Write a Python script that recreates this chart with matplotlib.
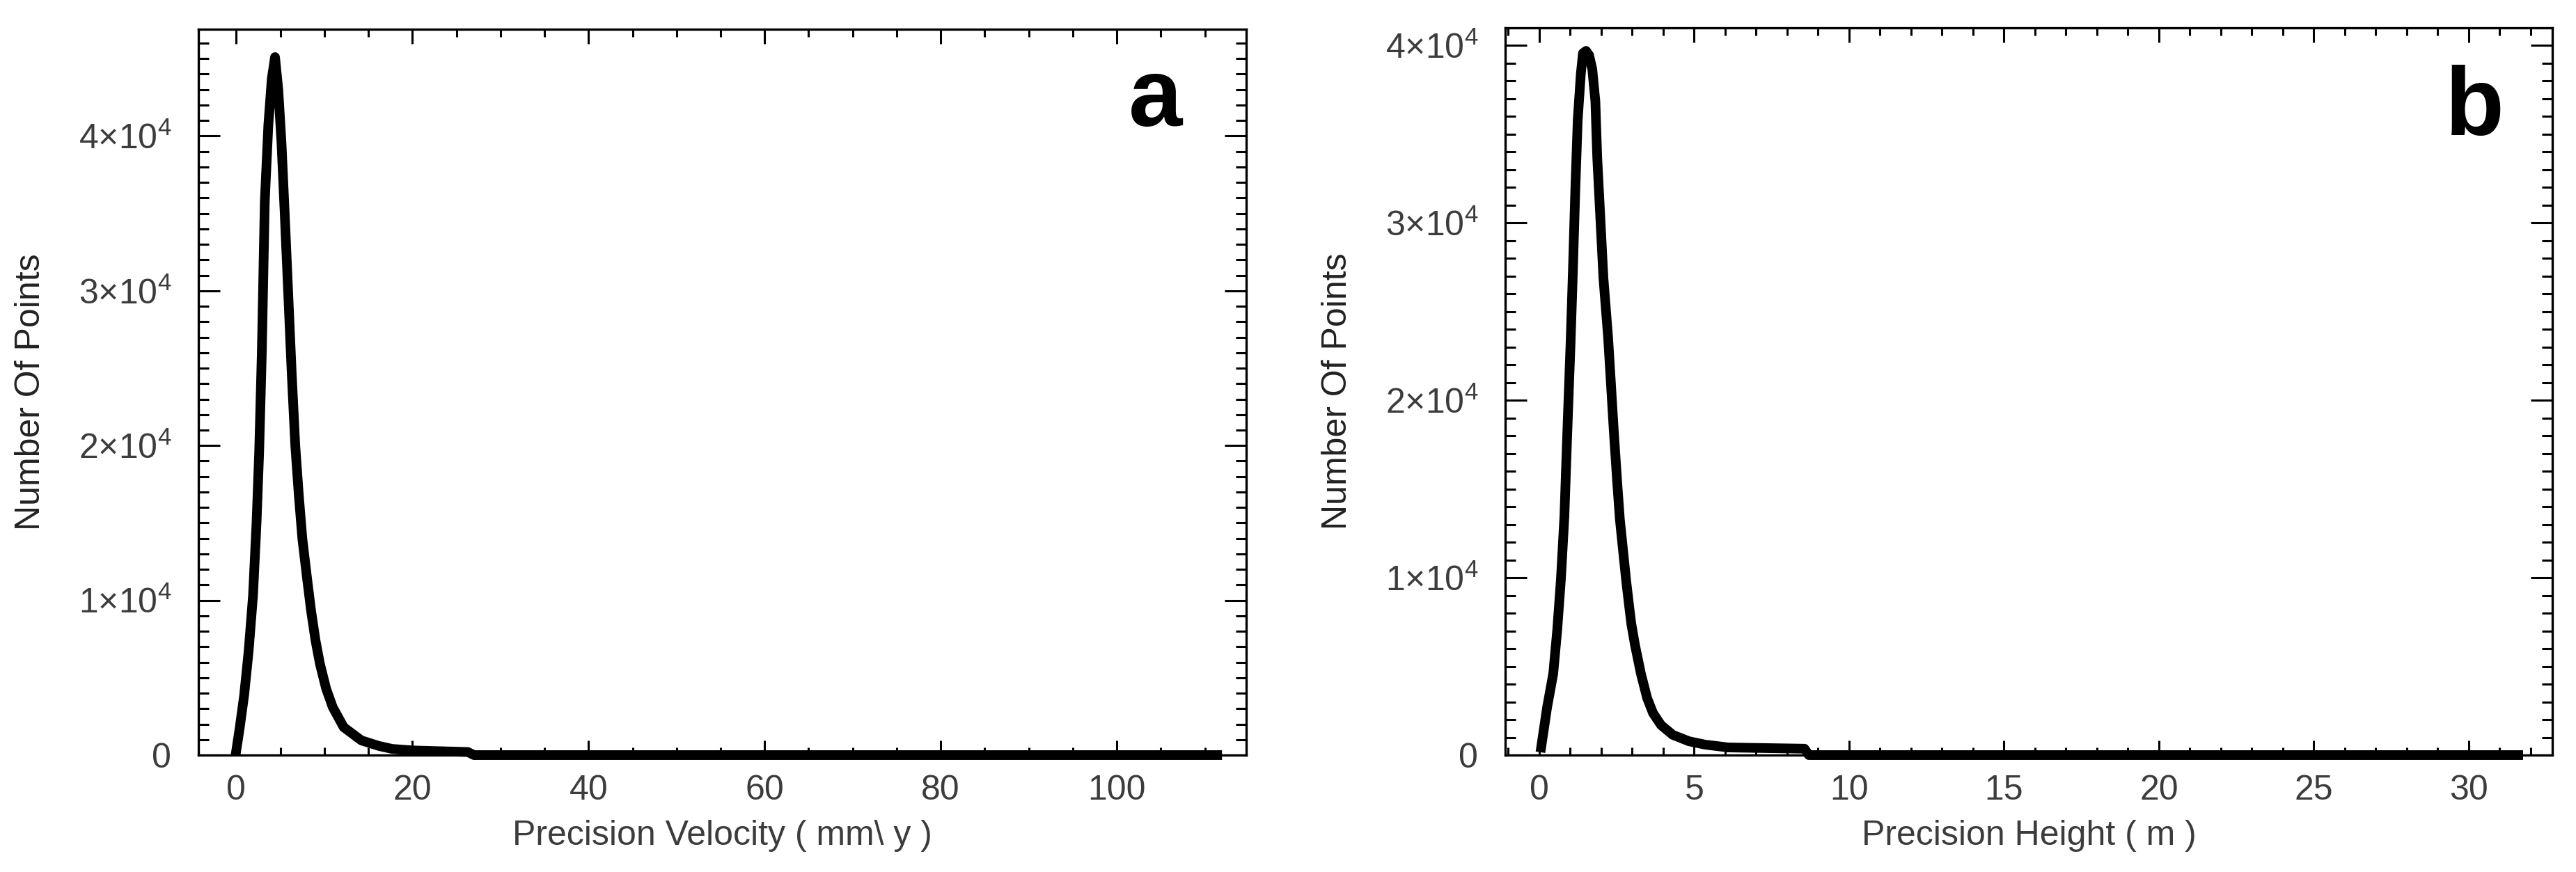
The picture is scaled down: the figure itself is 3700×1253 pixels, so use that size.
import numpy as np
import matplotlib
matplotlib.use("Agg")
import matplotlib.pyplot as plt
from matplotlib.ticker import MultipleLocator, FuncFormatter

plt.rcParams['font.family'] = ['Liberation Sans', 'DejaVu Sans']
plt.rcParams['mathtext.default'] = 'regular'

# panel a: precision velocity distribution (mm/y)
vel_x = [0.0, 0.4, 0.9, 1.4, 1.9, 2.3, 2.6, 2.9, 3.24, 3.64, 4.03, 4.4, 4.77,
         5.13, 5.5, 5.9, 6.3, 6.7, 7.1, 7.5, 8.0, 8.5, 9.0, 9.5, 10.2, 10.95,
         12.2, 14.2, 16.2, 17.7, 20.0, 26.3, 27.0, 111.4]
vel_counts = [300, 1800, 3900, 6700, 10300, 15000, 19600, 26000, 35800, 40700,
              43700, 45100, 43000, 39600, 35000, 29800, 24600, 20000, 16800,
              14000, 11600, 9300, 7400, 5900, 4300, 3100, 1800, 950, 590, 400,
              300, 200, 0, 0]

# panel b: precision height distribution (m)
hgt_x = [0.06, 0.25, 0.45, 0.58, 0.7, 0.81, 0.9, 1.01, 1.08, 1.16, 1.24, 1.34,
         1.41, 1.51, 1.61, 1.71, 1.81, 1.87, 1.96, 2.07, 2.22, 2.3, 2.4, 2.51,
         2.6, 2.7, 2.8, 2.9, 2.97, 3.09, 3.28, 3.48, 3.67, 3.93, 4.31, 4.83,
         5.35, 6.1, 8.56, 8.7, 31.6]
hgt_counts = [430, 2670, 4590, 7070, 9980, 13450, 18000, 23250, 27020, 31730,
              35800, 38400, 39570, 39700, 39450, 38670, 36870, 33700, 30630,
              26900, 23570, 21300, 18400, 15500, 13300, 11600, 9900, 8400,
              7400, 6200, 4590, 3220, 2370, 1690, 1140, 780, 590, 430, 360, 0,
              0]

W, H = 3700, 1253
fig = plt.figure(figsize=(W / 100, H / 100), dpi=100)

lab_col = '#3c3c3c'
fs = 36


def yfmt(v, pos):
    n = int(round(v / 1e4))
    if n == 0:
        return '0'
    return '%d×$10^{4}$' % n


def setup(ax, xlim, ylim, xmaj, xmin, xlabel, letter, lpos):
    ax.set_xlim(*xlim)
    ax.set_ylim(*ylim)
    ax.xaxis.set_major_locator(MultipleLocator(xmaj))
    ax.xaxis.set_minor_locator(MultipleLocator(xmin))
    ax.yaxis.set_major_locator(MultipleLocator(1e4))
    ax.yaxis.set_minor_locator(MultipleLocator(1e3))
    ax.yaxis.set_major_formatter(FuncFormatter(yfmt))
    ax.tick_params(which='both', direction='in', top=True, right=True,
                   width=2.2, colors='black', labelcolor=lab_col,
                   labelsize=fs)
    ax.tick_params(axis='x', which='major', length=15, pad=20)
    ax.tick_params(axis='x', which='minor', length=8)
    ax.tick_params(axis='y', which='major', length=22, pad=28)
    ax.tick_params(axis='y', which='minor', length=11)
    for s in ax.spines.values():
        s.set_linewidth(2.4)
    ax.set_xlabel(xlabel, fontsize=fs, color=lab_col, labelpad=14)
    ax.set_ylabel('Number Of Points', fontsize=fs, color='#222222')
    ax.yaxis.set_label_coords(-0.145, 0.5)
    ax.text(lpos[0], lpos[1], letter, transform=ax.transAxes, fontsize=100,
            fontweight='bold', ha='center', va='baseline')


ax1 = fig.add_axes([285 / W, 1 - 1085 / H, 1505 / W, 1043 / H])
ax1.plot(vel_x, vel_counts, color='black', lw=10, clip_on=False, zorder=3)
setup(ax1, (-4.3, 114.7), (0, 46900), 20, 5,
      'Precision Velocity ( mm\\ y )', 'a', (0.913, 0.867))

ax2 = fig.add_axes([2162 / W, 1 - 1085 / H, 1504 / W, 1045 / H])
ax2.plot(hgt_x, hgt_counts, color='black', lw=10, clip_on=False, zorder=3)
setup(ax2, (-1.1, 32.7), (0, 41000), 5, 1,
      'Precision Height ( m )', 'b', (0.926, 0.853))

fig.savefig('out.png', dpi=100)
